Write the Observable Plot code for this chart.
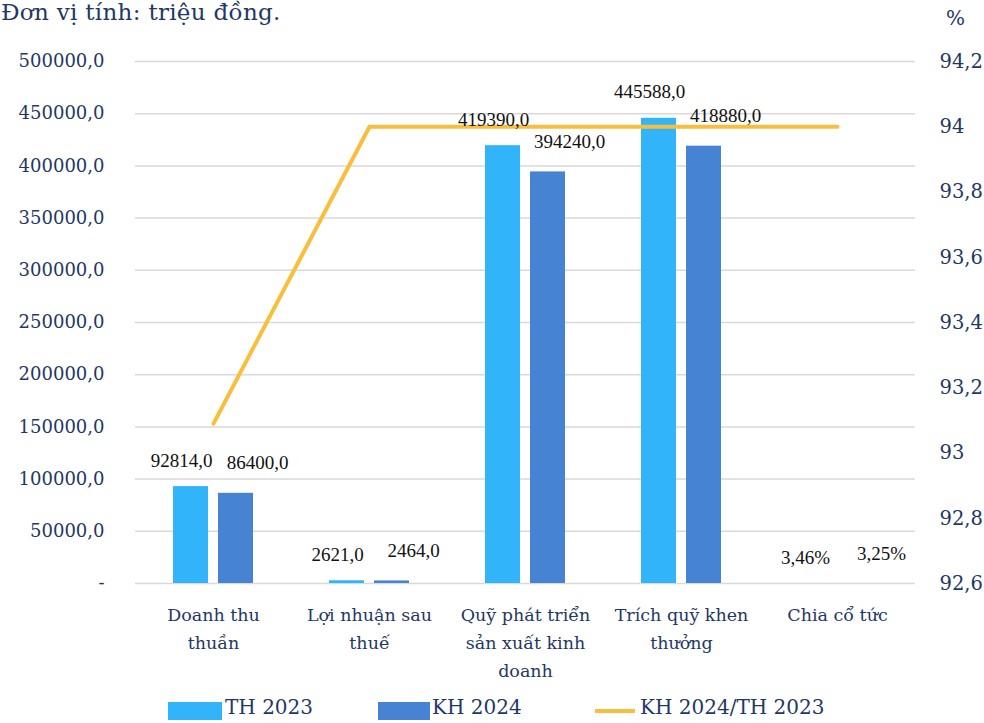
<!DOCTYPE html>
<html>
<head>
<meta charset="utf-8">
<script src="https://cdn.jsdelivr.net/npm/d3@7"></script>
<script src="https://cdn.jsdelivr.net/npm/@observablehq/plot@0.6"></script>
<style>
  html, body { margin: 0; padding: 0; background: #fff; }
  #wrap { position: relative; width: 984px; height: 723px; overflow: hidden; }
  .navy { color: #1F3864; font-family: "DejaVu Serif", serif; position: absolute; white-space: nowrap; }
  .sw { position: absolute; }
</style>
</head>
<body>
<div id="wrap">
  <div id="chart"></div>
  <div class="navy" style="left:1px; top:-1px; font-size:23px; letter-spacing:0.3px;">Đơn vị tính: triệu đồng.</div>
  <div class="navy" style="left:946px; top:6px; font-size:20px;">%</div>
  <div id="legend"></div>
</div>
<script>
const categories = ["Doanh thu thuần", "Lợi nhuận sau thuế", "Quỹ phát triển sản xuất kinh doanh", "Trích quỹ khen thưởng", "Chia cổ tức"];
const categoryLabels = ["Doanh thu\nthuần", "Lợi nhuận sau\nthuế", "Quỹ phát triển\nsản xuất kinh\ndoanh", "Trích quỹ khen\nthưởng", "Chia cổ tức"];
const th2023 = [92814, 2621, 419390, 445588, 3.46];
const kh2024 = [86400, 2464, 394240, 418880, 3.25];
const th2023Labels = ["92814,0", "2621,0", "419390,0", "445588,0", "3,46%"];
const kh2024Labels = ["86400,0", "2464,0", "394240,0", "418880,0", "3,25%"];
const ratio = [93.09, 94.0, 94.0, 94.0, 94.0];
const leftTicks = [0, 50000, 100000, 150000, 200000, 250000, 300000, 350000, 400000, 450000, 500000];
const leftTickLabels = ["-", "50000,0", "100000,0", "150000,0", "200000,0", "250000,0", "300000,0", "350000,0", "400000,0", "450000,0", "500000,0"];
const rightTicks = [92.6, 92.8, 93.0, 93.2, 93.4, 93.6, 93.8, 94.0, 94.2];
const rightTickLabels = ["92,6", "92,8", "93", "93,2", "93,4", "93,6", "93,8", "94", "94,2"];
const seriesNames = ["TH 2023", "KH 2024", "KH 2024/TH 2023"];

const C_TH = "#31B4FA", C_KH = "#4684D3", C_LINE = "#F8BE3C", NAVY = "#1F3864";
const pMin = 92.6, pMax = 94.2, yMax = 500000;
const toY = p => (p - pMin) / (pMax - pMin) * yMax;

const thData = categories.map((c, i) => ({cat: c, v: th2023[i], label: th2023Labels[i]}));
const khData = categories.map((c, i) => ({cat: c, v: kh2024[i], label: kh2024Labels[i]}));
const lineData = categories.map((c, i) => ({cat: c, p: ratio[i]}));
const catData = categories.map((c, i) => ({cat: c, label: categoryLabels[i]}));

const chart = Plot.plot({
  width: 984,
  height: 723,
  marginTop: 61,
  marginBottom: 140,
  marginLeft: 135,
  marginRight: 69,
  style: {background: "#fff"},
  x: {domain: categories, padding: 0, axis: null},
  y: {domain: [0, yMax], axis: null},
  marks: [
    Plot.gridY(leftTicks, {stroke: "#D9D9D9", strokeOpacity: 1, strokeWidth: 1.5}),
    Plot.barY(thData, {x: "cat", y: "v", fill: C_TH, insetLeft: 38, insetRight: 83}),
    Plot.barY(khData, {x: "cat", y: "v", fill: C_KH, insetLeft: 83, insetRight: 38}),
    Plot.line(lineData, {x: "cat", y: d => toY(d.p), stroke: C_LINE, strokeWidth: 4}),
    Plot.text(thData, {x: "cat", y: "v", text: "label", dx: -32, dy: -26, fill: "#111", fontSize: 19, fontFamily: "Liberation Serif"}),
    Plot.text(khData, {x: "cat", y: "v", text: "label", dx: 44, dy: -30, fill: "#111", fontSize: 19, fontFamily: "Liberation Serif"}),
    Plot.axisY(leftTicks, {anchor: "left", tickSize: 0, tickPadding: 31, tickFormat: (d, i) => leftTickLabels[i], fill: NAVY, fontSize: 18, fontFamily: "DejaVu Serif", label: null}),
    Plot.axisY(rightTicks.map(toY), {anchor: "right", tickSize: 0, tickPadding: 24, tickFormat: (d, i) => rightTickLabels[i], fill: NAVY, fontSize: 19.5, fontFamily: "DejaVu Serif", label: null}),
    Plot.text(catData, {x: "cat", y: () => 0, text: "label", lineAnchor: "top", dy: 18, lineHeight: 1.6, fill: NAVY, fontSize: 17.5, fontFamily: "DejaVu Serif"})
  ]
});
document.getElementById("chart").appendChild(chart);

const legend = document.getElementById("legend");
const items = [
  {name: seriesNames[0], color: C_TH, type: "rect", sx: 168, sw: 54, tx: 225},
  {name: seriesNames[1], color: C_KH, type: "rect", sx: 378, sw: 52, tx: 432},
  {name: seriesNames[2], color: C_LINE, type: "line", sx: 595, sw: 40, tx: 640}
];
for (const it of items) {
  const s = document.createElement("div");
  s.className = "sw";
  s.style.left = it.sx + "px";
  s.style.width = it.sw + "px";
  s.style.background = it.color;
  if (it.type === "rect") { s.style.top = "702px"; s.style.height = "18px"; }
  else { s.style.top = "709px"; s.style.height = "4px"; }
  legend.appendChild(s);
  const t = document.createElement("div");
  t.className = "navy";
  t.style.left = it.tx + "px";
  t.style.top = "695px";
  t.style.fontSize = "20px";
  t.textContent = it.name;
  legend.appendChild(t);
}
</script>
</body>
</html>
